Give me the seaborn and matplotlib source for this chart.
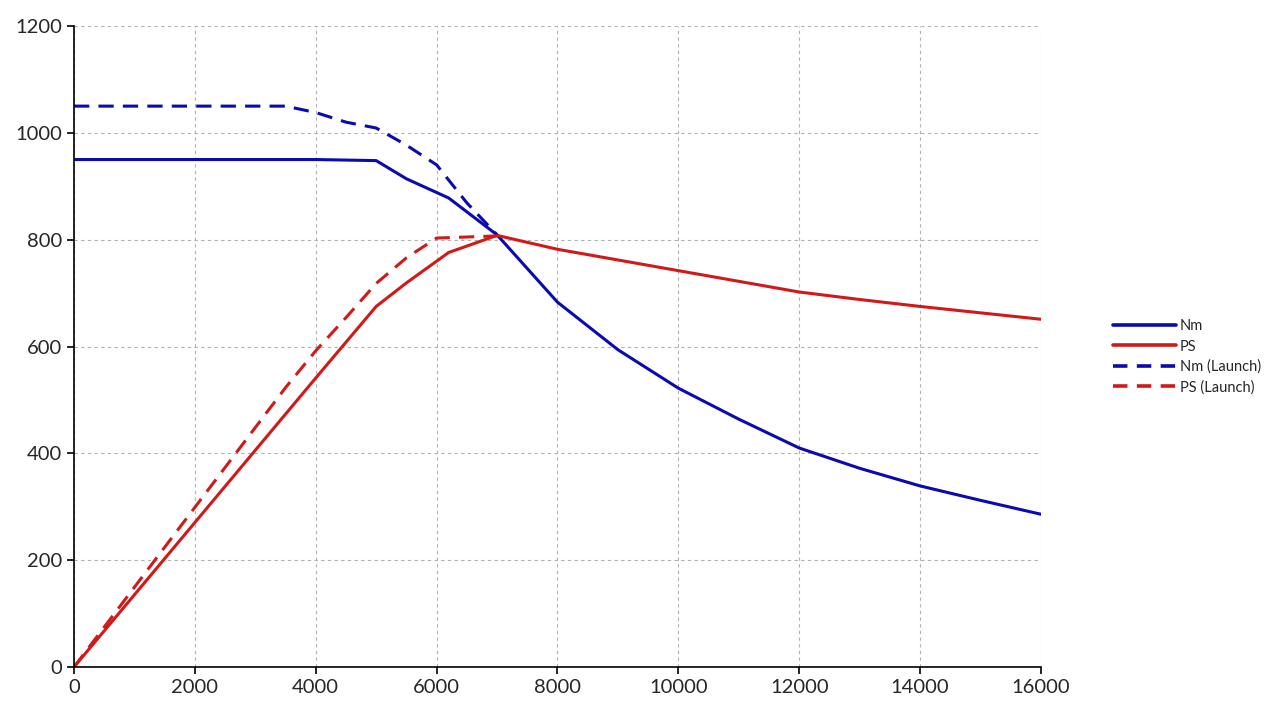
import matplotlib
matplotlib.use('Agg')
import matplotlib.pyplot as plt
import seaborn as sns
import pandas as pd

# engine curves
rpm = [0, 4000, 5000, 5500, 6200, 7000, 8000, 9000, 10000, 11000, 12000, 13000, 14000, 15000, 16000]
nm = [950, 950, 948, 914, 878, 809, 683, 594, 522, 464, 410, 372, 339, 312, 286]
ps = [0, 541, 675, 719, 776, 808, 782, 762, 742, 722, 702, 688, 675, 663, 651]

rpm_launch = [0, 3500, 4000, 4500, 5000, 5500, 6000, 6500, 7000]
nm_launch = [1050, 1050, 1038, 1020, 1009, 977, 940, 869, 809]
ps_launch = [0, 523, 592, 654, 718, 766, 803, 805, 807]

labels = ['Nm', 'PS', 'Nm (Launch)', 'PS (Launch)']
blue = '#0a0ab0'
red = '#d01a1a'

sns.set_style('white')
plt.rcParams['font.family'] = ['Lato', 'DejaVu Sans']

fig = plt.figure(figsize=(12.69, 7.14), dpi=100)
ax = fig.add_axes([0.0583, 0.0658, 0.762, 0.8978])

lw = 2.2
sns.lineplot(x=rpm, y=nm, ax=ax, color=blue, lw=lw, label=labels[0])
sns.lineplot(x=rpm, y=ps, ax=ax, color=red, lw=lw, label=labels[1])
sns.lineplot(x=rpm_launch, y=nm_launch, ax=ax, color=blue, lw=lw, label=labels[2], dashes=False)
sns.lineplot(x=rpm_launch, y=ps_launch, ax=ax, color=red, lw=lw, label=labels[3], dashes=False)
for line in ax.get_lines()[2:4]:
    line.set_dashes((5, 3))

ax.set_xlim(0, 16000)
ax.set_ylim(0, 1200)
ax.set_xticks(range(0, 16001, 2000))
ax.set_yticks(range(0, 1201, 200))
ax.grid(True, color='#b0b0b0', linestyle=(0, (3, 3)), linewidth=0.8)
ax.set_axisbelow(True)
for s in ['top', 'right']:
    ax.spines[s].set_visible(False)
for s in ['left', 'bottom']:
    ax.spines[s].set_color('black')
    ax.spines[s].set_linewidth(1.2)
ax.tick_params(axis='both', which='both', direction='out', length=5, width=1.2,
               labelsize=14.5, color='black', left=True, bottom=True)
ax.set_xlabel('')
ax.set_ylabel('')

leg = ax.legend(loc='center left', bbox_to_anchor=(0.8715, 0.5), bbox_transform=fig.transFigure,
                frameon=False, fontsize=10.5, handlelength=4.3, handletextpad=0.25,
                labelspacing=0.42, borderpad=0)
for h in leg.get_lines():
    h.set_linewidth(2.6)
for h in leg.get_lines()[2:4]:
    h.set_dashes((4, 2.6))

fig.savefig('out.png', dpi=100)
